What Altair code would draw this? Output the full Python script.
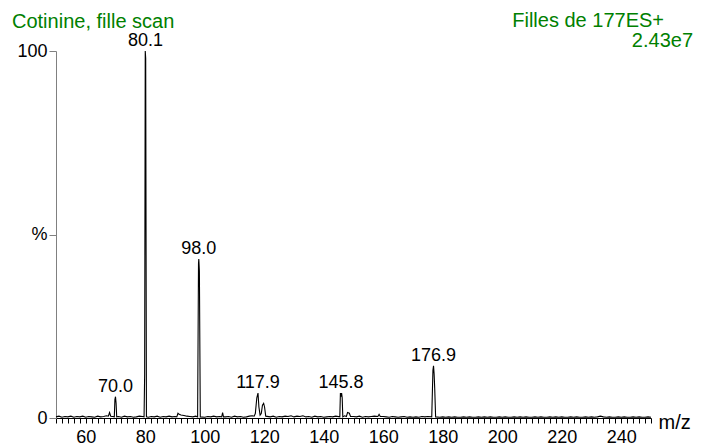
import altair as alt
import pandas as pd

# ---- data ----
baseline_start = 50
baseline_int = [
    0.3, 0.5, 0.2, 0.4, 0.3, 0.5, 0.2, 0.4, 0.3, 0.5,   # 50-59
    0.2, 0.4, 0.3, 0.2, 0.5, 0.3, 0.4, 0.6, 1.0, 0.4,   # 60-69
    0.3, 0.4, 0.2, 0.5, 0.3, 0.4, 0.2, 0.3, 0.5, 0.4,   # 70-79
    0.3, 0.2, 0.4, 0.3, 0.5, 0.2, 0.4, 0.3, 0.5, 0.3,   # 80-89
    0.4, 1.0, 0.8, 0.6, 0.5, 0.4, 0.3, 0.5, 0.3, 0.4,   # 90-99
    0.2, 0.4, 0.3, 0.5, 0.3, 0.4, 1.2, 0.3, 0.4, 0.2,   # 100-109
    0.5, 0.3, 0.4, 0.2, 0.3, 0.5, 0.6, 1.0, 0.8, 1.0,   # 110-119
    1.0, 0.4, 0.3, 0.5, 0.2, 0.4, 0.3, 0.5, 0.4, 0.6,   # 120-129
    0.3, 0.5, 0.4, 0.6, 0.3, 0.4, 0.2, 0.5, 0.3, 0.4,   # 130-139
    0.2, 0.3, 0.4, 0.3, 0.5, 0.4, 0.4, 0.6, 1.5, 1.0,   # 140-149
    0.4, 0.3, 0.5, 0.2, 0.4, 0.3, 0.4, 0.5, 1.0, 0.8,   # 150-159
    0.4, 0.3, 0.2, 0.4, 0.3, 0.2, 0.3, 0.4, 0.2, 0.3,   # 160-169
    0.2, 0.3, 0.2, 0.4, 0.3, 0.4, 0.4, 0.4, 0.3, 0.2,   # 170-179
    0.3, 0.2, 0.3, 0.2, 0.3, 0.2, 0.2, 0.3, 0.2, 0.3,   # 180-189
    0.2, 0.2, 0.3, 0.2, 0.3, 0.2, 0.3, 0.2, 0.2, 0.3,   # 190-199
    0.2, 0.3, 0.2, 0.2, 0.3, 0.2, 0.3, 0.2, 0.3, 0.2,   # 200-209
    0.2, 0.3, 0.2, 0.3, 0.2, 0.2, 0.3, 0.2, 0.3, 0.2,   # 210-219
    0.3, 0.2, 0.2, 0.3, 0.2, 0.3, 0.2, 0.2, 0.3, 0.2,   # 220-229
    0.3, 0.2, 0.3, 0.5, 0.3, 0.2, 0.3, 0.2, 0.2, 0.3,   # 230-239
    0.2, 0.3, 0.2, 0.2, 0.3, 0.2, 0.3, 0.2, 0.2, 0.3,   # 240-249
    0.2,                                                # 250
]

peak_mz = [67.6, 68.0, 68.4,
           69.6, 69.8, 70.0, 70.2, 70.4,
           79.6, 79.8, 80.0, 80.15, 80.4,
           90.6, 91.0, 91.4, 92.0, 93.0,
           97.6, 97.9, 98.0, 98.2, 98.5,
           105.7, 106.0, 106.3,
           116.6, 117.0, 117.5, 117.9, 118.2, 118.6, 119.0, 119.4, 119.8, 120.1, 120.5,
           145.4, 145.6, 145.8, 146.0, 146.2, 146.4,
           147.6, 148.0, 148.6, 149.0,
           158.2, 158.6, 159.0,
           176.3, 176.7, 176.9, 177.1, 177.3, 177.6]
peak_int = [0.5, 1.5, 0.5,
            0.3, 5.0, 5.8, 4.0, 0.3,
            0.3, 12.0, 100.0, 98.0, 0.3,
            0.3, 1.3, 1.0, 0.8, 0.7,
            0.3, 42.0, 43.3, 40.0, 0.3,
            0.3, 1.5, 0.3,
            0.5, 1.2, 5.5, 6.8, 3.0, 0.8, 1.2, 3.5, 4.0, 3.0, 0.5,
            0.3, 6.8, 5.8, 6.8, 5.5, 0.3,
            0.4, 1.5, 1.3, 0.4,
            0.4, 1.0, 0.4,
            0.3, 13.0, 14.2, 12.0, 8.0, 0.3]

label_mz = [70.0, 80.1, 98.0, 117.9, 145.8, 176.9]
label_int = [5.8, 100.0, 43.3, 6.8, 6.8, 14.2]
label_text = ["70.0", "80.1", "98.0", "117.9", "145.8", "176.9"]

x_tick_values = list(range(50, 251, 2))
x_label_values = [60, 80, 100, 120, 140, 160, 180, 200, 220, 240]

title_left = "Cotinine, fille scan"
title_right = "Filles de 177ES+"
title_scale = "2.43e7"

# ---- build tables ----
base = pd.DataFrame({"mz": [baseline_start + i for i in range(len(baseline_int))],
                     "int": baseline_int})
keep = base["mz"].apply(lambda m: all(abs(m - p) > 0.5 for p in peak_mz))
spec = pd.concat([base[keep], pd.DataFrame({"mz": peak_mz, "int": peak_int})])
spec = spec.sort_values("mz").reset_index(drop=True)
labels = pd.DataFrame({"mz": label_mz, "int": label_int, "t": label_text})

FONT = "Liberation Sans"
W, H = 595, 367

xs = alt.Scale(domain=[50, 250], nice=False, zero=False)
ys = alt.Scale(domain=[0, 100], nice=False)

label_test = " || ".join(f"datum.value == {v}" for v in x_label_values)
xaxis = alt.Axis(values=x_tick_values,
                 labelExpr=f"({label_test}) ? datum.label : ''",
                 grid=False, domainColor="black", tickColor="black", tickSize=5,
                 labels=True,
                 labelFont=FONT, labelFontSize=18, labelColor="black", labelPadding=5,
                 labelFlush=False, labelOverlap=False, labelBound=False,
                 title="m/z", titleFont=FONT, titleFontSize=20, titleFontWeight="normal",
                 titleColor="black", titleX=602, titleY=4, titleAlign="left",
                 titleBaseline="middle")
yaxis = alt.Axis(values=[0, 50, 100],
                 labelExpr="datum.value == 50 ? '%' : datum.label",
                 grid=False, domainColor="#808080", tickColor="#808080", tickSize=7,
                 labelFont=FONT, labelFontSize=18, labelColor="black", labelPadding=2,
                 labelFlush=False, title=None)

line = alt.Chart(spec).mark_line(color="black", strokeWidth=1.1, clip=False).encode(
    x=alt.X("mz:Q", scale=xs, axis=xaxis),
    y=alt.Y("int:Q", scale=ys, axis=yaxis),
    order="mz:Q",
)

peak_labels = alt.Chart(labels).mark_text(
    font=FONT, fontSize=18, color="black", baseline="bottom", align="center", dy=-1
).encode(x=alt.X("mz:Q", scale=xs, axis=xaxis), y=alt.Y("int:Q", scale=ys, axis=yaxis),
         text="t:N")

t_left = alt.Chart(pd.DataFrame({"t": [title_left]})).mark_text(
    font=FONT, fontSize=20, color="#008000", align="left", baseline="alphabetic"
).encode(x=alt.value(-44), y=alt.value(-23), text="t:N")
t_right = alt.Chart(pd.DataFrame({"t": [title_right]})).mark_text(
    font=FONT, fontSize=20, color="#008000", align="right", baseline="alphabetic"
).encode(x=alt.value(608), y=alt.value(-24), text="t:N")
t_scale = alt.Chart(pd.DataFrame({"t": [title_scale]})).mark_text(
    font=FONT, fontSize=20, color="#008000", align="right", baseline="alphabetic"
).encode(x=alt.value(637), y=alt.value(-4), text="t:N")

chart = alt.layer(line, peak_labels, t_left, t_right, t_scale).properties(
    width=W, height=H,
    background="white",
    autosize=alt.AutoSizeParams(type="none"),
    padding={"left": 48, "top": 43, "right": 43, "bottom": 30},
).configure_view(stroke=None)

chart.save("out.html", embed_options={"renderer": "svg", "actions": False})
